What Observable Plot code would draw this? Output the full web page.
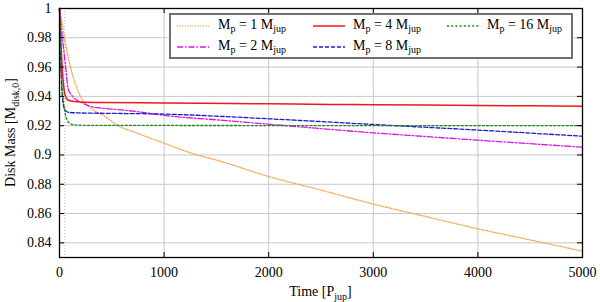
<!DOCTYPE html>
<html><head><meta charset="utf-8">
<script src="https://cdn.jsdelivr.net/npm/d3@7"></script>
<script src="https://cdn.jsdelivr.net/npm/@observablehq/plot@0.6"></script>
<style>
body{margin:0;background:#fff;}
#wrap{position:relative;width:600px;height:302px;font-family:"Liberation Serif","DejaVu Serif",serif;overflow:hidden;}
#wrap svg text{font-family:"Liberation Serif","DejaVu Serif",serif !important;}
#legend{position:absolute;left:169px;top:13px;width:400px;height:42px;border:2px solid #707070;background:#fff;}
.item{position:absolute;font-size:14px;line-height:14px;white-space:nowrap;color:#000;font-family:"Liberation Serif","DejaVu Serif",serif;}
.item sub{font-size:10px;vertical-align:-0.3em;line-height:0;}
.sample{position:absolute;}
</style></head><body><div id="wrap"></div>
<script>
// ---- data ----
const xTicks = [0, 1000, 2000, 3000, 4000, 5000];
const yTicks = [0.84, 0.86, 0.88, 0.9, 0.92, 0.94, 0.96, 0.98, 1];
const xGrid = [1000, 2000, 3000, 4000];
const yGrid = [0.84, 0.86, 0.88, 0.9, 0.92, 0.94, 0.96, 0.98];
const markerT = [50];

const seriesNames = ["Mp = 1 Mjup", "Mp = 2 Mjup", "Mp = 4 Mjup", "Mp = 8 Mjup", "Mp = 16 Mjup"];
const planetMass = [1, 2, 4, 8, 16];

const tMp1 = [0, 25, 55, 80, 105, 150, 200, 300, 430, 560, 720, 1000, 1285, 1500, 2000, 2500, 3000, 3500, 4000, 4500, 5000];
const mMp1 = [1.0, 0.99, 0.977, 0.968, 0.960, 0.949, 0.940, 0.932, 0.9265, 0.920, 0.9155, 0.908, 0.9007, 0.8965, 0.8853, 0.876, 0.8665, 0.858, 0.8496, 0.842, 0.8343];

const tMp2 = [0, 20, 40, 58, 83, 110, 153, 200, 280, 400, 550, 730, 1000, 1500, 2000, 2600, 3000, 3500, 4000, 4500, 5000];
const mMp2 = [1.0, 0.985, 0.972, 0.9606, 0.945, 0.9415, 0.938, 0.9362, 0.9335, 0.932, 0.931, 0.9297, 0.927, 0.924, 0.921, 0.9174, 0.9151, 0.9126, 0.9101, 0.9077, 0.9053];

const tMp4 = [0, 15, 30, 45, 60, 75, 100, 200, 400, 1000, 2000, 2600, 3000, 4000, 5000];
const mMp4 = [1.0, 0.975, 0.955, 0.944, 0.9395, 0.9378, 0.937, 0.9362, 0.9358, 0.9355, 0.9349, 0.9345, 0.9343, 0.9338, 0.9333];

const tMp8 = [0, 8, 16, 25, 35, 50, 70, 100, 200, 500, 1000, 1500, 2000, 2500, 3000, 4000, 5000];
const mMp8 = [1.0, 0.975, 0.955, 0.942, 0.935, 0.931, 0.9295, 0.929, 0.9287, 0.9284, 0.9279, 0.9265, 0.9247, 0.9228, 0.9208, 0.917, 0.9128];

const tMp16 = [0, 10, 25, 40, 55, 75, 100, 150, 300, 5000];
const mMp16 = [1.0, 0.972, 0.947, 0.935, 0.928, 0.9235, 0.9215, 0.9205, 0.9202, 0.9200];

// ---- styles ----
const FONT = "'Liberation Serif', 'DejaVu Serif', serif";
const colors = ["#f8a048", "#e010e0", "#f01818", "#1c1cc8", "#1a8a1a"];
const dashes = ["1,1.6", "6,2,1.5,2", null, "4,2", "2,2.2"];
const widths = [1.3, 1.3, 1.5, 1.3, 1.3];

const allT = [tMp1, tMp2, tMp4, tMp8, tMp16];
const allM = [mMp1, mMp2, mMp4, mMp8, mMp16];
const table = allT.map((ts, i) => ts.map((t, j) => ({t, m: allM[i][j], s: seriesNames[i]})));

const W = 600, H = 302, mL = 59, mR = 18, mT = 8, mB = 45;
const fw = W - mL - mR, fh = H - mT - mB;

const marks = [
  Plot.ruleY(yGrid, {stroke: "#c8c8c8", strokeWidth: 1}),
  Plot.ruleX(xGrid, {stroke: "#c8c8c8", strokeWidth: 1}),
  Plot.ruleX(markerT, {stroke: "#b8b8b8", strokeWidth: 1, strokeDasharray: "1,2"})
];
table.forEach((d, i) => {
  marks.push(Plot.line(d, {x: "t", y: "m", stroke: colors[i], strokeWidth: widths[i],
    strokeDasharray: dashes[i] || undefined, curve: "monotone-x"}));
});
marks.push(
  Plot.ruleY(yTicks, {insetRight: fw - 5, stroke: "#000", strokeWidth: 1}),
  Plot.ruleY(yTicks, {insetLeft: fw - 5, stroke: "#000", strokeWidth: 1}),
  Plot.ruleX(xTicks, {insetTop: fh - 5, stroke: "#000", strokeWidth: 1}),
  Plot.ruleX(xTicks, {insetBottom: fh - 5, stroke: "#000", strokeWidth: 1}),
  Plot.frame({stroke: "#000", strokeWidth: 1.3}),
  Plot.axisY({ticks: yTicks, tickSize: 0, tickPadding: 8, tickFormat: d => String(d), label: null}),
  Plot.axisX({ticks: xTicks, tickSize: 0, tickPadding: 10, tickFormat: d => String(d), label: null})
);

const chart = Plot.plot({
  width: W, height: H,
  marginLeft: mL, marginRight: mR, marginTop: mT, marginBottom: mB,
  x: {domain: [0, 5000]},
  y: {domain: [0.83, 1]},
  style: {fontFamily: FONT, fontSize: "14px", color: "#000", background: "#fff", overflow: "visible"},
  marks
});

const wrap = document.getElementById("wrap");
wrap.appendChild(chart);

const svg = d3.select(chart);
svg.attr("font-family", FONT).attr("font-size", 14).style("font-family", FONT).style("font-size", "14px");
svg.selectAll("g[aria-label='y-axis tick label'], g[aria-label='x-axis tick label']")
  .attr("font-family", FONT).attr("font-size", 14);

// axis titles with subscripts
const xl = svg.append("text").attr("x", mL + fw / 2).attr("y", 296).attr("text-anchor", "middle")
  .attr("font-family", FONT).attr("font-size", 14).attr("fill", "#000");
xl.append("tspan").text("Time [P");
xl.append("tspan").attr("font-size", 10).attr("dy", 4).text("jup");
xl.append("tspan").attr("dy", -4).text("]");

const yl = svg.append("text").attr("transform", `translate(15,${mT + fh / 2}) rotate(-90)`).attr("text-anchor", "middle")
  .attr("font-family", FONT).attr("font-size", 14).attr("fill", "#000");
yl.append("tspan").text("Disk Mass [M");
yl.append("tspan").attr("font-size", 10).attr("dy", 4).text("disk,0");
yl.append("tspan").attr("dy", -4).text("]");

// legend
const legend = document.createElement("div");
legend.id = "legend";
wrap.appendChild(legend);
const pos = [[0, 0], [0, 1], [1, 0], [1, 1], [2, 0]];
const colLine = [6, 142, 276];
const colText = [47, 182, 316];
const rowC = [11, 32];
seriesNames.forEach((name, i) => {
  const [c, r] = pos[i];
  const s = document.createElementNS("http://www.w3.org/2000/svg", "svg");
  s.setAttribute("width", 32); s.setAttribute("height", 6);
  s.setAttribute("class", "sample");
  s.style.left = colLine[c] + "px"; s.style.top = (rowC[r] - 3) + "px";
  const ln = document.createElementNS("http://www.w3.org/2000/svg", "line");
  ln.setAttribute("x1", 0); ln.setAttribute("x2", 32); ln.setAttribute("y1", 3); ln.setAttribute("y2", 3);
  ln.setAttribute("stroke", colors[i]); ln.setAttribute("stroke-width", widths[i]);
  if (dashes[i]) ln.setAttribute("stroke-dasharray", dashes[i]);
  s.appendChild(ln);
  legend.appendChild(s);
  const t = document.createElement("div");
  t.className = "item";
  t.style.left = colText[c] + "px"; t.style.top = (rowC[r] - 8) + "px";
  t.innerHTML = `M<sub>p</sub> = ${planetMass[i]} M<sub>jup</sub>`;
  legend.appendChild(t);
});
</script>
</body></html>
